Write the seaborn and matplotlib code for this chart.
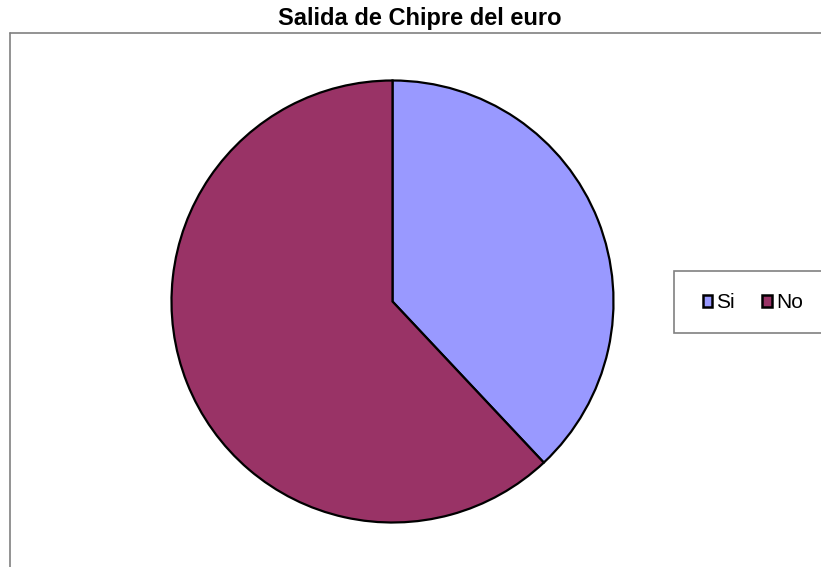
import matplotlib
matplotlib.use('Agg')
import matplotlib.pyplot as plt
import seaborn as sns
from matplotlib.patches import Rectangle, Patch
from matplotlib.lines import Line2D

# datos
respuestas = ['Si', 'No']
porcentajes = [38, 62]
colores = ['#9999FF', '#993366']

sns.set_theme(style='white')
plt.rcParams['font.family'] = ['Liberation Sans', 'DejaVu Sans']
plt.rcParams['text.color'] = 'black'

W, H = 821, 567
fig = plt.figure(figsize=(W / 100, H / 100), dpi=100)

# marco del grafico
gris = '#808080'
fig.add_artist(Line2D([9.5 / W, 9.5 / W], [0, (H - 32.5) / H], color=gris, lw=1.2, transform=fig.transFigure))
fig.add_artist(Line2D([9.5 / W, 1], [(H - 32.5) / H, (H - 32.5) / H], color=gris, lw=1.2, transform=fig.transFigure))

fig.text(420 / W, (H - 18.5) / H, 'Salida de Chipre del euro', ha='center', va='center',
         fontsize=17, fontweight='bold', color='black')

# tarta
r = 221
ax = fig.add_axes([(392.5 - r) / W, (H - 301.5 - r) / H, 2 * r / W, 2 * r / H])
ax.pie(porcentajes, colors=colores, startangle=90, counterclock=False,
       wedgeprops=dict(edgecolor='black', linewidth=1.6))
ax.set_xlim(-1, 1)
ax.set_ylim(-1, 1)
ax.set_aspect('equal')
ax.axis('off')

# leyenda
fig.add_artist(Rectangle((674 / W, (H - 333) / H), 1, 62 / H, facecolor='white',
                         edgecolor=gris, lw=1.2, transform=fig.transFigure))
handles = [Patch(facecolor=c, edgecolor='black', lw=1.8) for c in colores]
leg = fig.legend(handles, respuestas, loc='center left', bbox_to_anchor=(703 / W, (H - 303) / H),
                 ncol=2, frameon=False, fontsize=15, handlelength=0.45, handleheight=0.45,
                 handletextpad=0.2, columnspacing=1.3, borderaxespad=0, borderpad=0)
for t in leg.get_texts():
    t.set_color('black')

fig.savefig('out.png', dpi=100)
